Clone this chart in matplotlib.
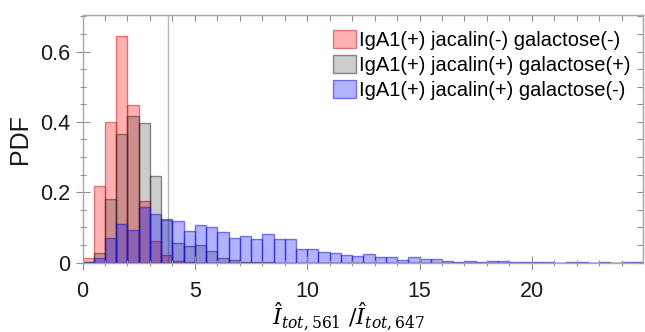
import matplotlib
matplotlib.use("Agg")
import matplotlib.pyplot as plt
from matplotlib.ticker import MultipleLocator
import numpy as np

# bin edges of the histograms (width 0.5)
bin_edges = np.arange(0, 25.01, 0.5)

# PDF per bin
red_pdf = [0.013, 0.217, 0.401, 0.643, 0.447, 0.175, 0.062, 0.022, 0.006, 0.002] + [0.0] * 40

gray_pdf = [0.002, 0.028, 0.182, 0.366, 0.418, 0.398, 0.247, 0.124, 0.055, 0.047,
            0.050, 0.034, 0.012, 0.007, 0.003, 0.002, 0.001] + [0.0] * 33

blue_pdf = [0.002, 0.013, 0.071, 0.110, 0.094, 0.158, 0.137, 0.121, 0.117, 0.090,
            0.106, 0.100, 0.088, 0.071, 0.075, 0.068, 0.080, 0.066, 0.066, 0.040,
            0.040, 0.029, 0.026, 0.022, 0.018, 0.024, 0.017, 0.017, 0.007, 0.017,
            0.010, 0.010, 0.006, 0.003, 0.006, 0.001, 0.006, 0.005, 0.002, 0.001,
            0.001, 0.001, 0.0, 0.001, 0.001, 0.0, 0.001, 0.0, 0.002, 0.001]

labels = ["IgA1(+) jacalin(-) galactose(-)",
          "IgA1(+) jacalin(+) galactose(+)",
          "IgA1(+) jacalin(+) galactose(-)"]

threshold = 3.8

plt.rcParams["font.family"] = ["Liberation Sans", "DejaVu Sans"]
plt.rcParams["mathtext.fontset"] = "dejavuserif"

fig = plt.figure(figsize=(6.45, 3.32), dpi=100)
ax = fig.add_axes([0.128, 0.209, 0.869, 0.745])

left = bin_edges[:-1]
w = np.diff(bin_edges)
series = [
    (red_pdf, (1, 0, 0, 0.30), (0.85, 0.1, 0.1, 0.55)),
    (gray_pdf, (0, 0, 0, 0.20), (0.2, 0.2, 0.2, 0.55)),
    (blue_pdf, (0, 0, 1, 0.30), (0.1, 0.1, 0.85, 0.55)),
]
for (vals, fc, ec), lab in zip(series, labels):
    ax.bar(left, vals, width=w, align="edge", facecolor=fc, edgecolor=ec,
           linewidth=1.0, label=lab)

ax.axvline(threshold, color="#b8b8b8", lw=1.0, zorder=0.5)

ax.set_xlim(0, 24.95)
ax.set_ylim(0, 0.703)
ax.xaxis.set_major_locator(MultipleLocator(5))
ax.xaxis.set_minor_locator(MultipleLocator(1))
ax.yaxis.set_major_locator(MultipleLocator(0.2))
ax.yaxis.set_minor_locator(MultipleLocator(0.05))
ax.set_yticks([0, 0.2, 0.4, 0.6])
ax.set_yticklabels(["0", "0.2", "0.4", "0.6"])

for s in ax.spines.values():
    s.set_color("#a8a8a8")
    s.set_linewidth(1.0)

ax.tick_params(which="both", direction="inout", color="#909090",
               labelsize=15.5, labelcolor="#1a1a1a", width=0.8)
ax.tick_params(which="major", length=10)
ax.tick_params(which="minor", length=5)
ax.tick_params(axis="x", pad=8)
ax.tick_params(axis="y", pad=4)

# ticks pointing inwards on top and right
top = ax.secondary_xaxis("top")
top.xaxis.set_major_locator(MultipleLocator(1))
top.tick_params(direction="in", length=4, color="#909090", labeltop=False)
top.spines["top"].set_color("#a8a8a8")
right = ax.secondary_yaxis("right")
right.yaxis.set_major_locator(MultipleLocator(0.05))
right.tick_params(direction="in", length=4, color="#909090", labelright=False)
right.spines["right"].set_color("#a8a8a8")

ax.set_ylabel("PDF", fontsize=18, color="#1a1a1a")
ax.yaxis.set_label_coords(-0.09, 0.5)
ax.set_xlabel(r"$\hat{I}_{tot,561}\ /\hat{I}_{tot,647}$", fontsize=16)
ax.xaxis.set_label_coords(0.475, -0.152)

ax.legend(loc="upper right", bbox_to_anchor=(1.0, 0.99), frameon=False,
          fontsize=14.5, handlelength=1.15, handleheight=1.0, handletextpad=0.15,
          labelspacing=0.25, borderaxespad=0.2)

fig.savefig("out.png", dpi=100)
